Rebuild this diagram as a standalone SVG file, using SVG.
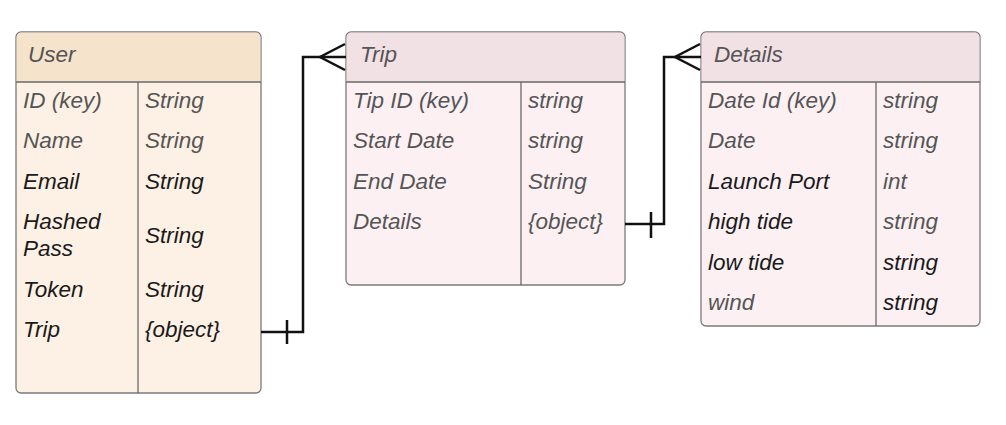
<svg xmlns="http://www.w3.org/2000/svg" width="1006" height="425" viewBox="0 0 1006 425">
<style>
text{font-family:"Liberation Sans",Arial,sans-serif;font-size:22.5px;font-style:italic}
.g{fill:#555}
.k{fill:#1a1a1a}
.box{stroke:#7a7a7a;stroke-width:1.3}
.div{stroke:#6a6a6a;stroke-width:1.3;fill:none}
.c{stroke:#111;stroke-width:2.5;fill:none}
</style>
<rect width="1006" height="425" fill="#fff"/>
<g id="user">
<rect class="box" x="16" y="32" width="245" height="361" rx="5" fill="#fdf1e5"/>
<path d="M21,32.6 H256 A4.4,4.4 0 0 1 260.4,37 V82 H16.6 V37 A4.4,4.4 0 0 1 21,32.6 Z" fill="#f5e3cc"/>
<path class="div" d="M16,82 H261 M138,82 V393"/>
<text x="28" y="62" class="g">User</text>
<text x="23" y="108" class="g">ID (key)</text><text x="145" y="108" class="g">String</text>
<text x="23" y="148" class="g">Name</text><text x="145" y="148" class="g">String</text>
<text x="23" y="189" class="k">Email</text><text x="145" y="189" class="k">String</text>
<text x="23" y="229" class="k">Hashed</text><text x="23" y="256" class="k">Pass</text><text x="145" y="243" class="k">String</text>
<text x="23" y="297" class="k">Token</text><text x="145" y="297" class="k">String</text>
<text x="23" y="337" class="k">Trip</text><text x="145" y="337" class="k">{object}</text>
</g>
<g id="trip">
<rect class="box" x="346" y="32" width="279" height="253" rx="5" fill="#fcf0f3"/>
<path d="M351,32.6 H620 A4.4,4.4 0 0 1 624.4,37 V82 H346.6 V37 A4.4,4.4 0 0 1 351,32.6 Z" fill="#f2e1e4"/>
<path class="div" d="M346,82 H625 M521,82 V285"/>
<text x="360" y="62" class="g">Trip</text>
<text x="353" y="108" class="g">Tip ID (key)</text><text x="528" y="108" class="g">string</text>
<text x="353" y="148" class="g">Start Date</text><text x="528" y="148" class="g">string</text>
<text x="353" y="189" class="g">End Date</text><text x="528" y="189" class="g">String</text>
<text x="353" y="229" class="g">Details</text><text x="528" y="229" class="g">{object}</text>
</g>
<g id="details">
<rect class="box" x="701" y="32" width="279" height="294" rx="5" fill="#fcf0f3"/>
<path d="M706,32.6 H975 A4.4,4.4 0 0 1 979.4,37 V82 H701.6 V37 A4.4,4.4 0 0 1 706,32.6 Z" fill="#f2e1e4"/>
<path class="div" d="M701,82 H980 M876,82 V326"/>
<text x="714" y="62" class="g">Details</text>
<text x="708" y="108" class="g">Date Id (key)</text><text x="883" y="108" class="g">string</text>
<text x="708" y="148" class="g">Date</text><text x="883" y="148" class="g">string</text>
<text x="708" y="189" class="k">Launch Port</text><text x="883" y="189" class="g">int</text>
<text x="708" y="229" class="k">high tide</text><text x="883" y="229" class="g">string</text>
<text x="708" y="270" class="k">low tide</text><text x="883" y="270" class="k">string</text>
<text x="708" y="310" class="g">wind</text><text x="883" y="310" class="k">string</text>
</g>
<g id="connectors">
<path class="c" d="M261,332 H303 V57 H346"/>
<path class="c" d="M287,320 V344 M345,44 L320,57 L345,70"/>
<path class="c" d="M625,224 H664 V57 H701"/>
<path class="c" d="M651,212 V238 M700,44 L675,57 L700,70"/>
</g>
</svg>
